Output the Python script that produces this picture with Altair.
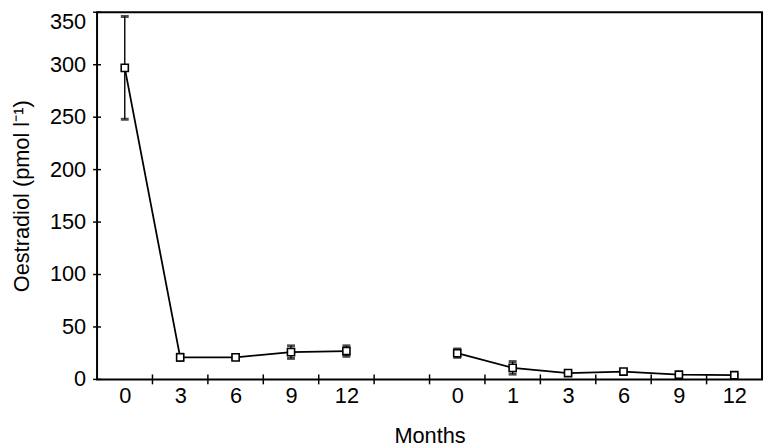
import altair as alt
import pandas as pd

# Data
labels1 = ["0", "3", "6", "9", "12"]
values1 = [297, 21, 21, 26, 27]
errs1 = [49, 3, 2, 6, 5]

labels2 = ["0", "1", "3", "6", "9", "12"]
values2 = [25, 11, 6, 7.5, 4.5, 4]
errs2 = [4, 6, 1, 2, 1, 1]

y_ticks = [0, 50, 100, 150, 200, 250, 300, 350]

all_labels = labels1 + [""] + labels2

rows = []
for i, (lab, v, e) in enumerate(zip(labels1, values1, errs1)):
    rows.append({"pos": i, "label": lab, "value": v, "lo": v - e, "hi": v + e, "group": "A"})
off = len(labels1) + 1
for i, (lab, v, e) in enumerate(zip(labels2, values2, errs2)):
    rows.append({"pos": off + i, "label": lab, "value": v, "lo": v - e, "hi": v + e, "group": "B"})
df = pd.DataFrame(rows)

n = len(all_labels)
tick_df = pd.DataFrame({"b": [k + 0.5 for k in range(n - 1)]})
ytick_df = pd.DataFrame({"v": y_ticks, "t": [str(v) for v in y_ticks]})

FONT = "Liberation Sans"
FS = 22
W, H = 672, 371

label_arr = "[" + ",".join("'%s'" % s for s in all_labels) + "]"
label_positions = [i for i, s in enumerate(all_labels) if s != ""]

xscale = alt.Scale(domain=[-0.5, n - 0.5], nice=False, zero=False)
yscale = alt.Scale(domain=[0, 350], nice=False)

x_axis = alt.Axis(
    values=label_positions,
    labelExpr=label_arr + "[datum.value]",
    title="Months",
    grid=False,
    ticks=False,
    domain=False,
    labelFont=FONT, labelFontSize=FS, labelColor="black", labelPadding=6,
    titleFont=FONT, titleFontSize=FS, titleFontWeight="normal", titleColor="black",
    titleY=57, titleBaseline="middle",
)
y_axis = alt.Axis(
    values=y_ticks,
    title="Oestradiol (pmol l⁻¹)",
    grid=False,
    ticks=False,
    domain=False,
    labels=False,
    titleFont=FONT, titleFontSize=FS, titleFontWeight="normal", titleColor="black",
    titleX=-76, titleBaseline="middle", titleAngle=-90,
)

base = alt.Chart(df)

lines = base.mark_line(color="black", strokeWidth=1.8).encode(
    x=alt.X("pos:Q", scale=xscale, axis=x_axis),
    y=alt.Y("value:Q", scale=yscale, axis=y_axis),
    detail="group:N",
)
err = base.mark_rule(color="black", strokeWidth=1.4).encode(
    x="pos:Q", y="lo:Q", y2="hi:Q"
)
cap_lo = base.mark_tick(color="black", orient="horizontal", size=8, thickness=3).encode(
    x="pos:Q", y="lo:Q"
)
cap_hi = base.mark_tick(color="black", orient="horizontal", size=8, thickness=3).encode(
    x="pos:Q", y="hi:Q"
)
pts = base.mark_point(shape="square", filled=True, fill="white", stroke="black",
                      strokeWidth=1.6, size=52, opacity=1).encode(
    x="pos:Q", y="value:Q"
)

xticks = alt.Chart(tick_df).mark_rule(color="black", strokeWidth=1.5).encode(
    x="b:Q", y=alt.value(H - 5), y2=alt.value(H + 5)
)
yticks = alt.Chart(ytick_df).mark_rule(color="black", strokeWidth=1.5).encode(
    y="v:Q", x=alt.value(-4), x2=alt.value(4)
)
ylabels = alt.Chart(ytick_df).transform_filter("datum.v < 350").mark_text(
    align="right", baseline="middle", font=FONT, fontSize=FS, color="black"
).encode(y="v:Q", x=alt.value(-11), text="t:N")
ylabel_top = alt.Chart(ytick_df).transform_filter("datum.v == 350").mark_text(
    align="right", baseline="middle", font=FONT, fontSize=FS, color="black", dy=10
).encode(y="v:Q", x=alt.value(-11), text="t:N")

chart = alt.layer(lines, err, cap_lo, cap_hi, pts, xticks, yticks, ylabels, ylabel_top).properties(
    width=W, height=H,
    autosize=alt.AutoSizeParams(type="none"),
    padding={"left": 90, "top": 2, "right": 2, "bottom": 66},
    background="white",
).configure_view(stroke="black", strokeWidth=2)

chart.save("out.html", embed_options={"renderer": "svg", "actions": False})
